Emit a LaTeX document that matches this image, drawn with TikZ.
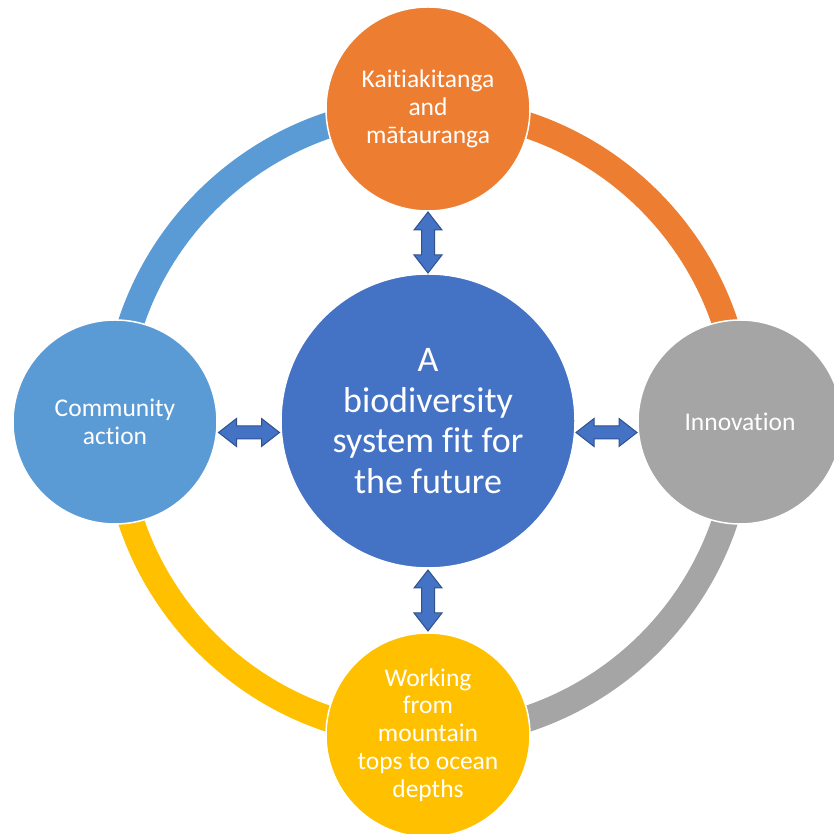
\documentclass[tikz,border=0pt]{standalone}
\usepackage{fontspec}
\setmainfont{Carlito}[RawFeature={-liga;-dlig;-clig}]
\usetikzlibrary{calc}
\definecolor{cltblue}{HTML}{5B9BD5}
\definecolor{corange}{HTML}{ED7D31}
\definecolor{cgray}{HTML}{A5A5A5}
\definecolor{cyellow}{HTML}{FFC000}
\definecolor{cmain}{HTML}{4472C4}
\definecolor{cborder}{HTML}{2F528F}
\tikzset{
  ringarc/.style={line width=26pt},
  circ/.style={circle, draw=white, line width=1.5pt, inner sep=0pt, minimum size=204pt,
    text=white, align=center, font=\fontsize{25.5}{27.8}\selectfont},
  bigcirc/.style={circ, minimum size=294pt, font=\fontsize{36}{40.5}\selectfont},
  dblarr/.pic={
    \filldraw[fill=cmain, draw=cborder, line width=1pt, line join=miter]
      (-30.5,0) -- (-12.5,14) -- (-12.5,6.5) -- (12.5,6.5) -- (12.5,14) -- (30.5,0)
      -- (12.5,-14) -- (12.5,-6.5) -- (-12.5,-6.5) -- (-12.5,-14) -- cycle;
  }
}
\begin{document}
\begin{tikzpicture}[x=1pt,y=1pt]
\useasboundingbox (0,0) rectangle (833,834);
\coordinate (ring) at (428,412);
% ring segments
\draw[ringarc, cltblue] (ring) ++(180:313) arc[start angle=180, end angle=90, radius=313];
\draw[ringarc, corange] (ring) ++(90:313) arc[start angle=90, end angle=0, radius=313];
\draw[ringarc, cgray] (ring) ++(0:313) arc[start angle=360, end angle=270, radius=313];
\draw[ringarc, cyellow] (ring) ++(270:313) arc[start angle=270, end angle=180, radius=313];
% circles
\node[bigcirc, fill=cmain] (center) at (428,413) {A\\biodiversity\\system fit for\\the future};
\node[circ, fill=corange] (top) at (428,725) {Kaitiakitanga\\and\\mātauranga};
\node[circ, fill=cltblue] (left) at (115,412) {Community\\action};
\node[circ, fill=cgray] (right) at (740,412) {Innovation};
\node[circ, fill=cyellow] (bottom) at (428,99) {Working\\from\\mountain\\tops to ocean\\depths};
% double arrows
\pic[rotate=90] at ($(top.south)!0.5!(center.north)$) {dblarr};
\pic[rotate=90] at ($(center.south)!0.5!(bottom.north)$) {dblarr};
\pic at ($([yshift=-11pt]left.east)!0.5!([yshift=-11pt]center.west)$) {dblarr};
\pic at ($([yshift=-11pt]center.east)!0.5!([yshift=-11pt]right.west)$) {dblarr};
\end{tikzpicture}
\end{document}
